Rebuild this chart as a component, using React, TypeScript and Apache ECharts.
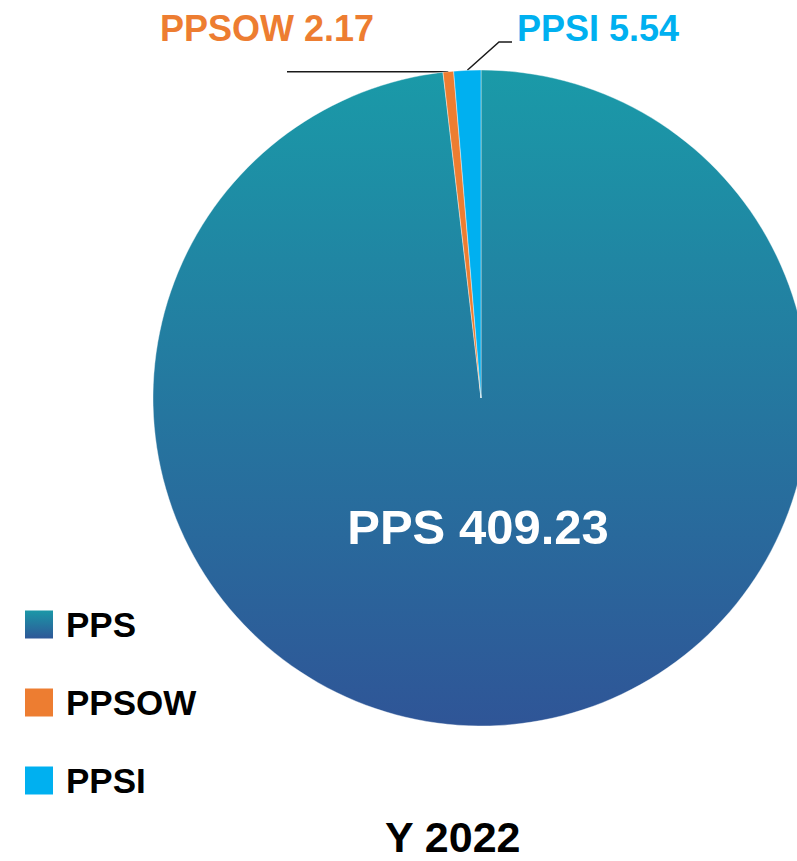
import React, { useEffect, useRef } from 'react';
import * as echarts from 'echarts';

const categories = ['PPS', 'PPSOW', 'PPSI'];
const values = [409.23, 2.17, 5.54];
const chartTitle = 'Y 2022';

export default function App() {
  const ref = useRef<HTMLDivElement>(null);
  useEffect(() => {
    const chart = echarts.init(ref.current!, null, { renderer: 'svg' });
    const font = '"Liberation Sans", Arial, Helvetica, sans-serif';
    const ppsGradient = new echarts.graphic.LinearGradient(0, 0, 0, 1, [
      { offset: 0, color: '#1a9aa8' },
      { offset: 1, color: '#2f5597' },
    ]);
    const sliceColors: any[] = [ppsGradient, '#ed7d31', '#00b0f0'];
    const data = categories.map((name, i) => ({
      name,
      value: values[i],
      itemStyle: { color: sliceColors[i] },
      label:
        i === 0
          ? { position: 'inside', color: '#ffffff', fontSize: 49 }
          : { position: 'outside', color: sliceColors[i], fontSize: 36 },
      labelLine: { show: i !== 0 },
    }));

    chart.setOption({
      animation: false,
      title: {
        text: chartTitle,
        left: 385,
        top: 815,
        padding: 0,
        textStyle: { fontFamily: font, fontSize: 43, fontWeight: 'bold', color: '#000' },
      },
      legend: {
        orient: 'vertical',
        left: 23,
        top: 607,
        itemWidth: 30,
        itemHeight: 30,
        itemGap: 43,
        icon: 'rect',
        padding: 0,
        data: categories,
        textStyle: { fontFamily: font, fontSize: 35, fontWeight: 'bold', color: '#000', padding: [0, 0, 0, 7] },
      },
      series: [
        {
          type: 'pie',
          center: [481, 398],
          radius: 328,
          startAngle: 90,
          clockwise: true,
          avoidLabelOverlap: false,
          itemStyle: { borderColor: '#ffffff', borderWidth: 0.4 },
          label: {
            show: true,
            formatter: '{b} {c}',
            fontFamily: font,
            fontWeight: 'bold',
          },
          labelLine: {
            show: true,
            lineStyle: { color: '#1a1a1a', width: 1.5 },
          },
          labelLayout: (params: any) => {
            const i = params.dataIndex;
            const p0 = params.labelLinePoints ? params.labelLinePoints[0] : [450, 71];
            if (i === 0) return { x: 478, y: 527, align: 'center', verticalAlign: 'middle' };
            if (i === 1)
              return {
                x: 160,
                y: 28,
                align: 'left',
                verticalAlign: 'middle',
                labelLinePoints: [p0, [(p0[0] + 287) / 2, p0[1]], [287, p0[1]]],
              };
            return {
              x: 517,
              y: 28,
              align: 'left',
              verticalAlign: 'middle',
              labelLinePoints: [p0, [499, 42], [512, 42]],
            };
          },
          data,
        },
      ],
    });
    return () => chart.dispose();
  }, []);
  return <div ref={ref} style={{ position: 'absolute', left: 0, top: 0, width: 797, height: 861 }} />;
}
